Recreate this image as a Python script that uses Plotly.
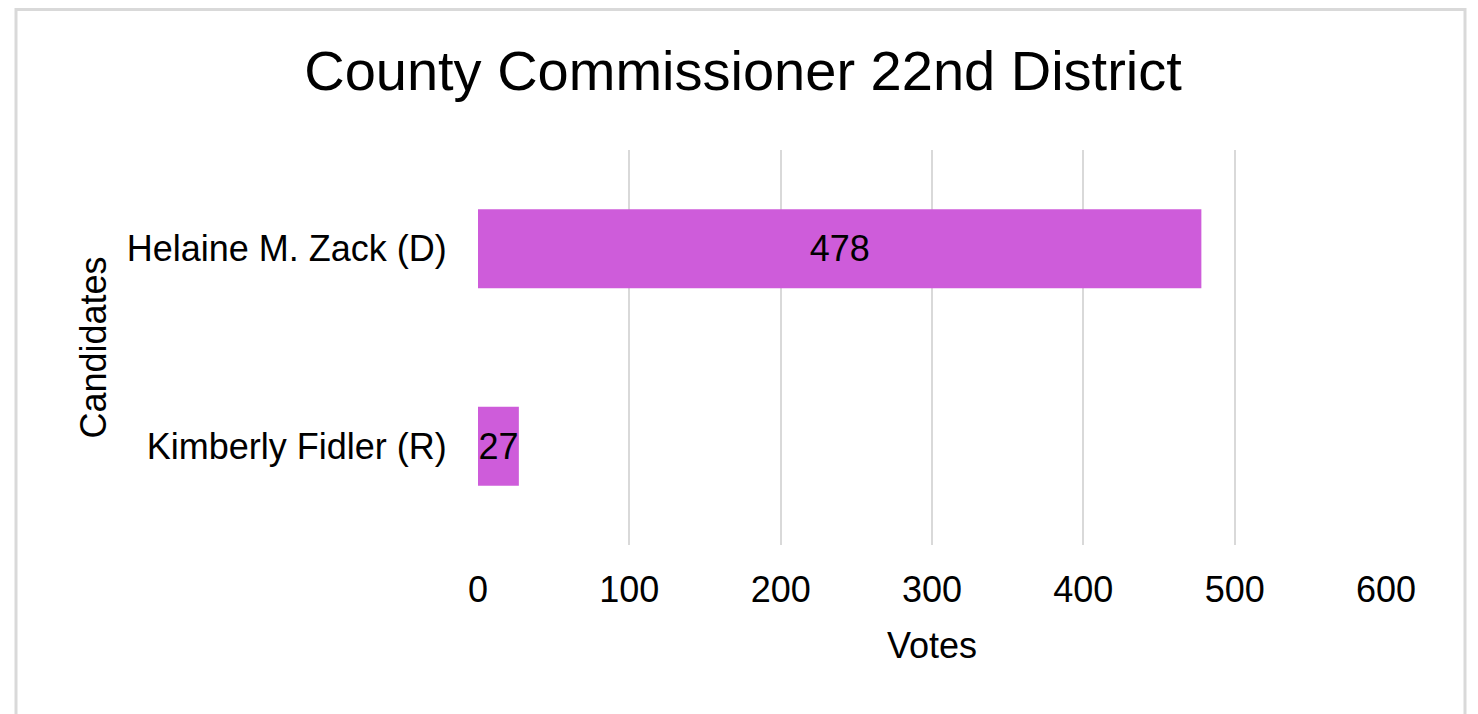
import plotly.graph_objects as go

candidates = ['Helaine M. Zack (D)', 'Kimberly Fidler (R)']
votes = [478, 27]
x_ticks = [0, 100, 200, 300, 400, 500, 600]

# page body adds an 8px margin, so the figure is 8px smaller each way
W, H = 1470, 706
L, R, T, B = 470, 92, 142, 169
pw, ph = W - L - R, H - T - B

fig = go.Figure()

fig.add_trace(go.Bar(
    y=candidates,
    x=votes,
    orientation='h',
    width=0.4,
    marker=dict(color='#CE5CDA', line=dict(width=0)),
    text=[str(v) for v in votes],
    textposition='inside',
    insidetextanchor='middle',
    constraintext='none',
    textfont=dict(color='black', size=36, family='Liberation Sans, Arial'),
))

# grey frame around the whole chart
fig.add_shape(
    type='rect', xref='paper', yref='paper',
    x0=(8 - L) / pw, x1=(1457 - L) / pw,
    y0=-1.0, y1=(H - B - 1.5) / ph,
    line=dict(color='#D9D9D9', width=3),
    layer='below',
)

fig.update_layout(
    width=W, height=H,
    margin=dict(l=L, r=R, t=T, b=B, autoexpand=False),
    paper_bgcolor='white', plot_bgcolor='white',
    showlegend=False,
    font=dict(family='Liberation Sans, Arial', size=36, color='black'),
    title=dict(
        text='County Commissioner 22nd District',
        x=0.5, xanchor='center',
        y=1 - 62 / H, yanchor='middle',
        font=dict(size=56, color='black'),
    ),
    xaxis=dict(
        range=[0, 600],
        tickvals=x_ticks,
        showgrid=True, gridcolor='#D9D9D9', gridwidth=2,
        zeroline=False, showline=False,
        ticks='outside', ticklen=0, ticklabelstandoff=13,
        title=dict(text='Votes', standoff=23, font=dict(size=36)),
        automargin=False,
    ),
    yaxis=dict(
        autorange='reversed',
        showgrid=False, zeroline=False, showline=False,
        ticks='outside', ticklen=0, ticklabelstandoff=23,
        title=dict(text='Candidates', standoff=9, font=dict(size=36)),
        automargin=False,
    ),
)

fig.write_html('out.html')
